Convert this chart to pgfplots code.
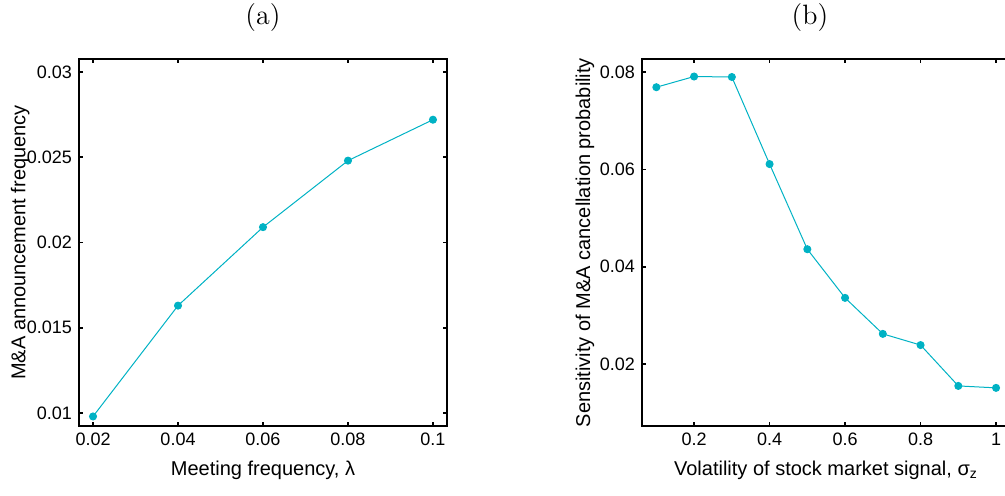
\documentclass[border=0pt]{standalone}
\usepackage{fontspec}
\setmainfont{Liberation Sans}
\newfontfamily\lmfont{Latin Modern Roman}
\usepackage{pgfplots}
\pgfplotsset{compat=1.18}
\definecolor{lc}{RGB}{0,178,196}
\begin{document}
\begin{tikzpicture}
\useasboundingbox (0pt,0pt) rectangle (502.5pt,247.5pt);
\pgfplotsset{
  myax/.style={
    scale only axis, width=184pt, height=183.5pt,
    anchor=south west,
    axis line style={line width=1pt},
    tick style={line width=0.8pt, black},
    major tick length=2pt,
    tick align=inside,
    xtick pos=both, ytick pos=both,
    scaled ticks=false,
    tick label style={font=\fontsize{9}{10}\selectfont},
    label style={font=\fontsize{10}{12}\selectfont},
    every axis x label/.style={at={(axis description cs:0.5,-0.12)}, anchor=center},
    /pgf/number format/assume math mode=true,
    /pgf/number format/fixed,
    /pgf/number format/precision=3,
  },
  myplot/.style={color=lc, line width=0.5pt, mark=*, mark size=1.75pt, mark options={fill=lc, draw=lc}},
}
\begin{axis}[myax, at={(39.5pt,34.5pt)},
  every axis y label/.style={at={(axis description cs:-0.160,0.5)}, anchor=center, rotate=90},
  xmin=0.0167, xmax=0.1033, ymin=0.00924, ymax=0.03076,
  xtick={0.02,0.04,0.06,0.08,0.1},
  ytick={0.01,0.015,0.02,0.025,0.03},
  xlabel={Meeting frequency, λ},
  ylabel={M\&A announcement frequency},
]
\addplot[myplot] coordinates {(0.02,0.0098) (0.04,0.0163) (0.06,0.0209) (0.08,0.0248) (0.1,0.0272)};
\end{axis}
\begin{axis}[myax, at={(321pt,34.5pt)},
  every axis y label/.style={at={(axis description cs:-0.155,0.5)}, anchor=center, rotate=90},
  xmin=0.062, xmax=1.037, ymin=0.00726, ymax=0.0827,
  xtick={0.2,0.4,0.6,0.8,1},
  ytick={0.02,0.04,0.06,0.08},
  xlabel={Volatility of stock market signal, σ\textsubscript{z}},
  ylabel={Sensitivity of M\&A cancellation probability},
]
\addplot[myplot] coordinates {(0.1,0.0769) (0.2,0.0791) (0.3,0.0790) (0.4,0.0611) (0.5,0.0436) (0.6,0.0336) (0.7,0.0262) (0.8,0.0239) (0.9,0.0155) (1.0,0.0151)};
\end{axis}
\node[font=\lmfont\fontsize{14}{16}\selectfont] at (131.5pt,238.5pt) {(a)};
\node[font=\lmfont\fontsize{14}{16}\selectfont] at (405pt,238.5pt) {(b)};
\end{tikzpicture}
\end{document}
